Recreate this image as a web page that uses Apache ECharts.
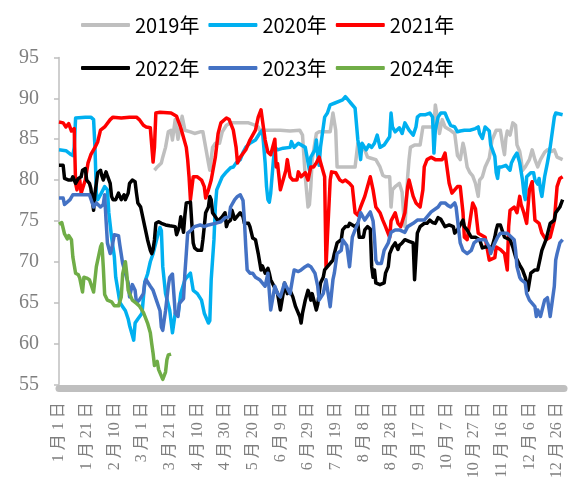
<!DOCTYPE html>
<html>
<head>
<meta charset="utf-8">
<script src="https://cdn.jsdelivr.net/npm/echarts@6/dist/echarts.min.js"></script>
<style>
  html, body { margin: 0; padding: 0; background: #fff; }
  #chart { width: 573px; height: 495px; }
</style>
</head>
<body>
<div id="chart"></div>
<script>
// Calendar of one (leap) year: the category axis, one slot per day
const monthDays = [31, 29, 31, 30, 31, 30, 31, 31, 30, 31, 30, 31];
const categories = [];
monthDays.forEach((n, m) => {
  for (let d = 1; d <= n; d++) categories.push((m + 1) + '月' + d + '日');
});

const seriesNames = ['2019年', '2020年', '2021年', '2022年', '2023年', '2024年'];

// Observations as [day of year (0 = 1月1日), value]
const s2019 = [[69,81.2],[71,81.6],[74,82.1],[75,82.8],[77,84.0],[79,85.9],[81,86.1],[82,84.9],[84,87.4],[86,85.0],[89,87.8],[90,88.0],[91,86.1],[95,85.9],[98,85.7],[102,85.9],[104,85.9],[106,84.0],[108,82.1],[109,81.2],[111,84.0],[113,84.5],[116,84.5],[118,85.9],[121,86.7],[124,87.0],[129,87.0],[137,87.0],[142,86.7],[144,86.5],[145,86.1],[152,86.1],[160,86.1],[167,86.0],[174,86.1],[176,85.5],[178,80.4],[180,76.7],[181,77.0],[182,79.2],[183,82.5],[186,85.7],[188,85.9],[196,85.9],[198,88.2],[199,88.3],[200,86.1],[201,81.6],[205,81.6],[210,81.6],[214,81.6],[216,84.5],[218,84.0],[221,83.7],[223,82.8],[225,82.7],[229,82.5],[232,81.6],[234,80.6],[236,80.4],[239,80.4],[240,76.7],[241,78.8],[243,79.2],[246,79.6],[248,78.5],[249,76.0],[250,74.3],[251,77.0],[252,80.4],[253,82.5],[254,84.0],[257,84.3],[261,84.3],[263,86.5],[268,86.5],[271,86.5],[272,89.2],[274,87.0],[275,85.7],[277,87.4],[279,86.5],[282,86.2],[286,85.7],[288,83.0],[290,82.5],[292,84.5],[293,83.8],[295,81.6],[297,80.9],[299,80.5],[301,79.6],[303,78.0],[304,80.0],[306,80.4],[308,81.6],[311,82.7],[313,84.9],[316,86.1],[319,86.1],[321,84.0],[322,83.1],[323,85.1],[324,86.0],[326,85.5],[328,87.0],[330,86.7],[331,84.3],[333,83.5],[334,82.5],[335,81.2],[337,81.6],[340,82.5],[342,83.7],[344,82.5],[346,81.6],[348,82.5],[351,83.4],[353,83.7],[356,83.5],[358,83.7],[360,82.8],[364,82.5]];

const s2020 = [[0,83.7],[5,83.6],[8,83.2],[10,83.0],[11,84.0],[12,87.6],[19,87.7],[23,87.7],[25,87.4],[26,84.0],[27,78.4],[28,77.6],[30,78.2],[33,79.2],[35,78.8],[36,76.0],[38,73.0],[40,70.6],[41,68.1],[43,66.1],[44,65.0],[46,64.5],[48,64.0],[50,63.0],[51,62.2],[53,61.0],[54,60.4],[55,62.5],[57,63.0],[60,63.7],[62,67.5],[64,68.5],[66,70.0],[68,71.0],[71,73.0],[73,74.2],[74,73.8],[75,69.4],[77,66.1],[80,64.1],[82,61.3],[84,63.7],[86,63.5],[88,66.1],[91,67.8],[95,68.6],[97,66.5],[100,66.1],[103,65.3],[105,63.7],[108,62.5],[109,62.8],[110,67.8],[112,72.7],[113,76.7],[114,78.8],[116,79.6],[118,80.4],[121,81.0],[124,81.5],[126,81.6],[128,82.1],[131,82.5],[133,83.4],[135,84.0],[138,84.5],[142,84.9],[145,85.7],[147,86.1],[149,82.1],[150,79.2],[151,77.6],[152,77.3],[153,78.4],[155,82.5],[156,84.0],[158,83.7],[162,83.9],[167,84.0],[168,84.7],[170,84.0],[173,84.5],[178,84.0],[181,81.2],[182,82.8],[185,83.7],[186,84.9],[187,83.1],[188,81.8],[189,84.0],[192,87.7],[194,88.2],[196,89.2],[199,89.4],[205,89.8],[207,90.2],[209,89.8],[211,89.4],[214,88.8],[216,84.9],[217,84.0],[218,82.5],[219,84.5],[222,83.7],[224,84.3],[226,84.0],[228,84.5],[230,85.5],[232,84.0],[235,84.3],[239,85.3],[240,88.2],[241,86.5],[243,85.9],[246,86.4],[248,85.7],[250,87.0],[253,86.1],[256,85.5],[258,86.5],[259,87.7],[261,88.0],[265,88.0],[268,88.2],[270,87.7],[271,83.3],[272,86.1],[274,87.7],[276,88.2],[279,88.2],[281,87.4],[283,86.7],[286,86.5],[288,85.9],[290,86.0],[293,86.1],[297,86.1],[301,86.3],[303,86.5],[304,85.7],[306,85.1],[308,86.5],[311,86.0],[312,84.3],[315,82.9],[316,80.9],[317,80.2],[318,81.6],[320,81.6],[323,81.8],[326,81.2],[327,82.1],[329,82.8],[331,83.3],[333,82.1],[335,80.0],[336,78.4],[337,77.6],[338,80.4],[341,80.9],[343,80.9],[344,80.0],[346,79.5],[347,80.2],[348,78.8],[349,78.0],[351,80.4],[353,82.1],[355,84.0],[358,87.7],[359,88.2],[364,88.0]];

const s2021 = [[0,87.1],[3,87.0],[5,86.5],[7,86.9],[9,86.0],[11,86.3],[12,79.6],[13,78.8],[15,80.0],[16,78.4],[19,80.0],[21,82.1],[23,83.1],[26,84.0],[28,84.7],[30,86.1],[33,86.5],[37,87.4],[39,87.7],[45,87.6],[51,87.7],[56,87.7],[58,87.4],[61,86.7],[63,86.5],[66,86.4],[67,86.2],[68,82.2],[69,84.0],[70,88.2],[73,88.3],[81,88.2],[85,87.8],[88,86.4],[92,84.0],[93,82.5],[94,80.4],[95,77.6],[97,80.4],[100,80.4],[103,80.0],[105,79.2],[106,77.8],[108,78.8],[110,80.0],[113,82.8],[115,85.7],[117,87.0],[121,87.6],[123,87.4],[126,86.1],[128,84.0],[129,82.1],[131,82.8],[135,83.7],[138,84.9],[142,86.1],[144,87.7],[146,88.6],[149,84.9],[151,83.4],[153,83.1],[156,85.0],[157,81.6],[158,82.0],[160,78.8],[162,80.0],[164,81.2],[165,82.5],[167,80.4],[169,80.0],[172,80.0],[173,81.0],[175,80.4],[178,80.9],[180,80.0],[182,81.6],[184,81.6],[186,82.1],[188,82.8],[192,80.4],[193,69.4],[194,73.0],[196,80.0],[197,81.0],[200,80.9],[203,80.0],[205,79.8],[207,80.0],[210,79.6],[212,79.2],[214,76.0],[216,75.7],[218,76.7],[221,78.0],[223,79.2],[225,80.4],[227,78.8],[229,76.7],[232,76.0],[234,75.1],[236,74.3],[239,73.0],[240,75.0],[243,76.0],[245,74.7],[247,74.3],[250,76.0],[252,79.2],[253,80.0],[256,78.0],[258,77.2],[261,76.7],[263,78.8],[264,81.6],[266,82.5],[269,82.8],[272,82.5],[277,82.5],[279,83.3],[282,79.6],[284,78.4],[288,79.2],[290,79.2],[292,76.0],[293,73.0],[295,72.7],[299,77.2],[301,76.5],[303,73.5],[308,73.0],[311,70.2],[315,70.5],[316,71.8],[319,71.5],[322,71.0],[324,69.0],[325,74.3],[326,76.3],[329,76.7],[331,76.0],[333,78.0],[334,77.0],[336,76.0],[338,74.7],[340,78.8],[342,79.8],[344,75.1],[347,74.7],[349,73.5],[352,72.7],[355,73.0],[358,75.0],[360,79.2],[362,80.2],[364,80.4]];

const s2022 = [[0,81.8],[3,81.8],[4,80.2],[7,80.0],[9,80.0],[10,80.4],[12,79.6],[14,80.2],[15,80.0],[16,80.4],[17,81.2],[19,81.4],[20,80.0],[22,79.6],[23,79.0],[25,76.3],[26,78.4],[27,79.6],[28,80.9],[30,81.2],[31,80.5],[32,80.0],[34,81.0],[35,80.5],[37,79.6],[38,78.0],[39,77.6],[41,77.6],[43,78.4],[45,77.6],[47,78.2],[48,77.6],[50,78.4],[51,79.6],[53,80.0],[55,79.8],[56,78.4],[57,77.2],[59,76.7],[61,75.1],[62,74.3],[64,72.7],[66,71.4],[67,71.0],[68,71.5],[69,72.7],[70,74.7],[72,74.9],[74,74.7],[77,74.5],[80,74.4],[84,74.3],[85,73.3],[86,73.5],[87,74.3],[88,75.5],[90,73.6],[91,75.7],[92,77.2],[95,77.3],[96,74.7],[97,72.3],[98,71.7],[100,71.4],[103,71.4],[104,72.7],[105,74.3],[106,76.0],[108,76.7],[109,78.0],[110,77.6],[111,76.0],[113,75.5],[115,75.0],[116,75.1],[118,75.5],[120,76.0],[121,74.3],[122,74.8],[124,75.1],[125,76.3],[127,75.2],[131,76.0],[133,75.5],[134,74.7],[137,74.7],[138,74.3],[140,72.9],[142,72.7],[144,71.0],[145,70.0],[146,69.0],[147,69.5],[149,68.6],[151,69.2],[152,68.6],[153,67.8],[156,66.8],[158,66.1],[160,64.1],[162,66.1],[163,67.4],[165,66.1],[167,66.5],[169,65.7],[171,64.5],[174,63.3],[175,62.5],[176,63.7],[178,65.3],[180,66.5],[181,66.0],[182,65.3],[183,66.1],[186,64.1],[187,64.8],[188,66.1],[189,67.4],[191,68.1],[192,69.0],[194,69.4],[196,69.8],[198,70.2],[199,71.0],[201,72.3],[204,72.7],[205,73.9],[207,74.3],[209,74.3],[210,74.7],[212,74.5],[214,74.3],[216,74.7],[217,73.0],[220,73.0],[221,73.9],[223,74.3],[225,74.0],[226,69.4],[227,68.1],[228,69.0],[229,67.4],[232,67.2],[235,67.4],[236,68.6],[238,69.4],[239,71.0],[241,71.8],[243,72.3],[245,71.5],[246,72.0],[248,72.3],[250,72.7],[253,72.5],[256,72.3],[257,67.8],[259,73.5],[261,74.3],[264,74.7],[266,74.7],[268,75.1],[270,74.8],[272,74.7],[274,75.4],[276,75.2],[279,74.3],[282,74.5],[285,74.3],[286,73.5],[288,73.9],[290,74.5],[292,75.1],[293,74.3],[295,73.9],[298,73.0],[301,73.0],[304,72.7],[306,71.7],[308,71.8],[313,71.8],[315,73.0],[316,73.9],[317,74.5],[318,74.7],[319,74.5],[322,73.0],[326,72.7],[328,71.8],[330,70.6],[333,69.6],[335,69.0],[337,68.1],[338,67.4],[339,66.5],[341,68.6],[344,69.0],[346,69.0],[348,70.6],[349,71.4],[352,72.7],[355,74.7],[358,75.1],[359,76.0],[362,76.7],[364,77.6]];

const s2023 = [[0,77.8],[3,77.8],[4,77.0],[8,77.6],[10,78.2],[22,78.2],[25,76.7],[27,77.2],[30,76.7],[32,77.0],[33,78.2],[34,75.1],[35,72.3],[37,71.0],[38,71.5],[40,73.3],[43,73.2],[44,72.0],[46,69.8],[48,68.6],[50,67.4],[51,65.7],[53,67.2],[55,66.5],[56,65.0],[58,65.3],[61,66.1],[62,67.4],[63,67.8],[66,67.0],[68,66.5],[71,65.0],[73,64.0],[74,62.0],[75,61.6],[77,64.0],[79,67.0],[80,68.1],[82,68.5],[83,66.1],[84,63.7],[86,63.3],[87,64.9],[90,65.5],[91,68.6],[92,71.0],[93,73.5],[95,73.8],[98,74.3],[102,74.5],[105,74.3],[108,74.5],[113,74.7],[117,74.9],[120,75.4],[123,75.5],[124,76.7],[127,77.6],[129,78.0],[131,78.2],[133,77.5],[134,75.1],[135,71.8],[136,69.0],[138,68.6],[140,68.6],[142,68.1],[145,67.8],[149,67.0],[151,68.6],[153,64.1],[156,67.0],[158,66.1],[160,65.7],[163,67.4],[167,66.1],[169,68.1],[170,69.0],[173,68.8],[175,69.0],[178,69.4],[180,69.6],[182,69.4],[185,68.6],[186,67.8],[187,67.0],[188,65.3],[191,66.1],[193,67.8],[196,64.5],[198,67.8],[199,68.6],[201,71.0],[204,71.4],[205,72.7],[208,72.0],[210,69.4],[212,73.0],[214,73.9],[216,74.7],[218,76.0],[221,75.1],[225,76.1],[227,75.0],[228,73.0],[229,70.2],[230,69.8],[233,69.8],[235,71.4],[238,72.3],[239,73.0],[240,73.6],[243,73.9],[246,73.9],[250,73.6],[252,74.3],[256,74.7],[259,75.1],[264,75.1],[266,75.5],[269,76.1],[274,76.7],[276,77.2],[279,77.2],[281,76.9],[283,76.7],[286,77.2],[287,76.7],[290,72.3],[292,71.4],[295,71.0],[298,71.4],[300,72.3],[303,72.7],[308,72.7],[311,71.8],[312,71.0],[315,72.3],[317,73.0],[319,73.5],[324,73.5],[329,72.7],[330,71.4],[331,69.4],[333,68.1],[334,67.8],[337,67.4],[338,66.1],[340,65.3],[344,64.5],[345,63.3],[346,64.1],[348,63.3],[351,65.3],[353,65.6],[355,63.3],[358,67.0],[359,70.2],[360,71.0],[362,72.3],[364,72.7]];

const s2024 = [[0,74.6],[2,74.8],[4,73.4],[6,72.8],[7,73.2],[9,72.7],[10,70.6],[12,68.6],[14,68.4],[15,68.0],[17,66.3],[18,68.1],[20,68.0],[22,67.8],[25,66.3],[27,69.4],[30,71.8],[31,72.2],[32,69.4],[33,66.0],[35,65.3],[38,65.1],[40,64.6],[43,64.6],[45,65.7],[46,68.5],[48,70.0],[49,68.5],[50,66.5],[51,66.1],[53,65.3],[56,64.9],[58,64.6],[61,63.8],[62,64.0],[64,62.5],[66,61.3],[67,60.0],[68,58.8],[69,57.3],[71,57.8],[72,56.8],[74,56.0],[75,55.6],[77,56.5],[78,58.0],[79,58.6],[81,58.7]];

const seriesData = [s2019, s2020, s2021, s2022, s2023, s2024];
const colors = ['#BFBFBF', '#00B0F0', '#FF0000', '#000000', '#4472C4', '#70AD47'];

const yTicks = { min: 55, max: 95, step: 5 };

const chart = echarts.init(document.getElementById('chart'), null, { renderer: 'canvas' });

// One legend row: a thick rounded bar followed by the year
function legendRow(top, names) {
  return {
    top: top,
    left: 76,
    orient: 'horizontal',
    data: names,
    icon: 'roundRect',
    itemWidth: 49,
    itemHeight: 4,
    itemGap: 9,
    textStyle: { color: '#000', fontSize: 20, fontFamily: 'Noto Sans CJK SC, sans-serif' }
  };
}

chart.setOption({
  animation: false,
  backgroundColor: '#fff',
  color: colors,
  legend: [legendRow(10, seriesNames.slice(0, 3)), legendRow(53, seriesNames.slice(3))],
  grid: { left: 59, right: 9, top: 57.5, bottom: 110.7, containLabel: false },
  xAxis: {
    type: 'category',
    data: categories,
    boundaryGap: false,
    offset: 4,
    axisLine: { lineStyle: { color: '#BFBFBF', width: 7 } },
    axisTick: { show: false },
    axisLabel: {
      interval: 19,
      rotate: 90,
      margin: 14,
      color: '#7F7F7F',
      fontSize: 16,
      fontFamily: 'Liberation Serif, Noto Sans CJK SC, serif',
      // spaced-out date text, e.g. "1 月 1 日"
      formatter: (v) => v.split('').join(' ').replace(/(\d) (\d)/g, '$1$2')
    },
    splitLine: { show: false }
  },
  yAxis: {
    type: 'value',
    min: yTicks.min,
    max: yTicks.max,
    interval: yTicks.step,
    axisLine: { show: true, lineStyle: { color: '#BFBFBF', width: 1.5 } },
    axisTick: { show: true, length: 5, lineStyle: { color: '#BFBFBF', width: 1.5 } },
    axisLabel: {
      margin: 20,
      color: '#7F7F7F',
      fontSize: 20,
      fontFamily: 'Liberation Serif, serif'
    },
    splitLine: { show: false }
  },
  series: seriesNames.map((name, i) => ({
    name: name,
    type: 'line',
    data: seriesData[i],
    showSymbol: false,
    symbol: 'none',
    connectNulls: true,
    lineStyle: { width: 3.5, color: colors[i], join: 'round' },
    itemStyle: { color: colors[i] },
    z: 2 + i
  }))
});
</script>
</body>
</html>
